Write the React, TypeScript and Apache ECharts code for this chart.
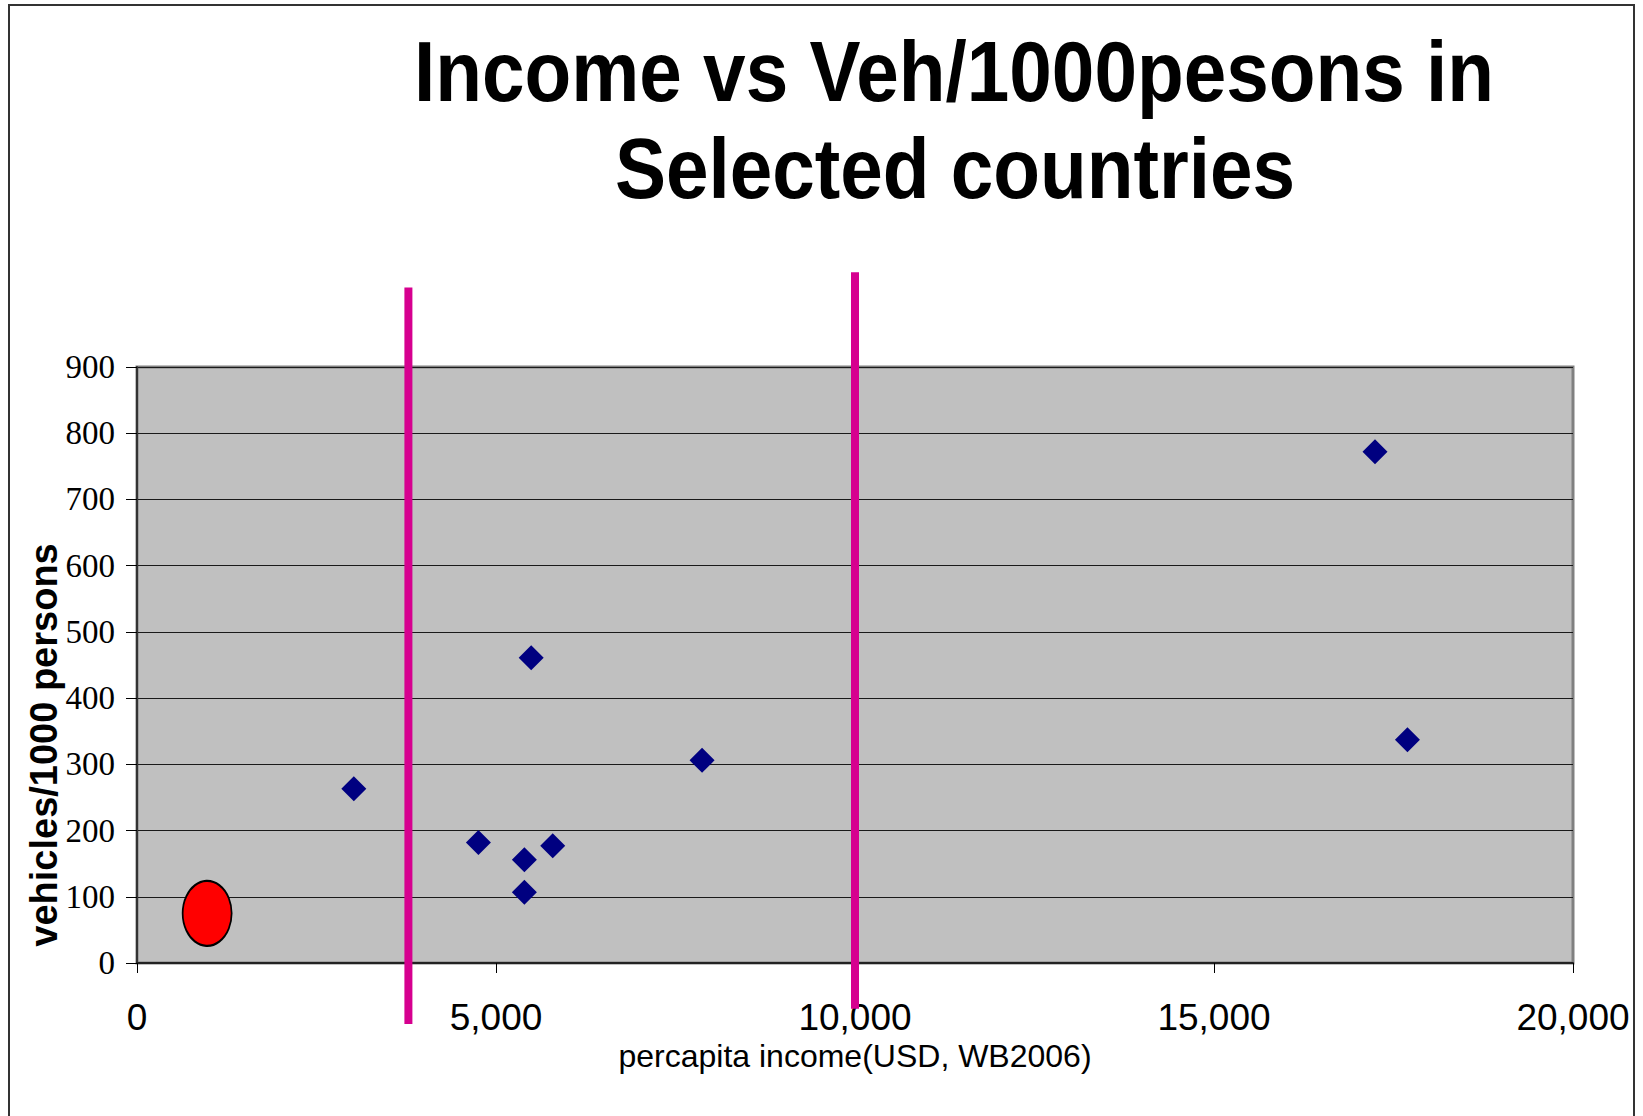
import React, { useEffect, useRef } from "react";
import * as echarts from "echarts";

// ---- data ----
const incomeUSD = [3020, 4755, 5490, 5395, 5395, 5790, 7870, 17242, 17694];
const vehiclesPer1000 = [263, 182, 461, 156, 107, 177, 306, 772, 337];

const highlightIncome = [977];
const highlightVehicles = [75];

const thresholdIncome = [3780, 10000];
const thresholdFrom = [-92, -69];
const thresholdTo = [1020, 1043];

const xTicks = [0, 5000, 10000, 15000, 20000];
const yTicks = [0, 100, 200, 300, 400, 500, 600, 700, 800, 900];

const titleLines = ["Income vs Veh/1000pesons in", "Selected countries"];
const xAxisTitle = "percapita income(USD, WB2006)";
const yAxisTitle = "vehicles/1000 persons";

export default function App() {
  const ref = useRef<HTMLDivElement>(null);

  useEffect(() => {
    if (!ref.current) return;
    const chart = echarts.init(ref.current, undefined, { renderer: "svg" });

    const scatterData = incomeUSD.map((x, i) => [x, vehiclesPer1000[i]]);
    const highlightData = highlightIncome.map((x, i) => [x, highlightVehicles[i]]);
    const lineData = thresholdIncome.map((x, i) => [x, thresholdFrom[i], thresholdTo[i]]);

    const option: any = {
      animation: false,
      backgroundColor: "#ffffff",
      grid: {
        left: 137,
        right: 70,
        top: 367,
        bottom: 153,
        show: true,
        backgroundColor: "#C0C0C0",
        borderColor: "#808080",
        borderWidth: 3,
      },
      xAxis: {
        type: "value",
        min: xTicks[0],
        max: xTicks[xTicks.length - 1],
        interval: 5000,
        name: xAxisTitle,
        nameLocation: "middle",
        nameGap: 77,
        nameMoveOverlap: false,
        nameTextStyle: {
          fontFamily: "'Liberation Sans', Arial, sans-serif",
          fontSize: 32,
          color: "#000",
        },
        axisLine: { show: true, lineStyle: { color: "#222", width: 2 } },
        axisTick: { show: true, inside: false, length: 10, lineStyle: { color: "#000", width: 1 } },
        axisLabel: {
          margin: 36,
          fontFamily: "'Liberation Sans', Arial, sans-serif",
          fontSize: 37,
          color: "#000",
          formatter: (v: number) => v.toLocaleString("en-US"),
        },
        splitLine: { show: false },
      },
      yAxis: {
        type: "value",
        min: yTicks[0],
        max: yTicks[yTicks.length - 1],
        interval: 100,
        axisLine: { show: true, lineStyle: { color: "#333", width: 2 } },
        axisTick: { show: true, inside: false, length: 11, lineStyle: { color: "#000", width: 1 } },
        axisLabel: {
          margin: 22,
          fontFamily: "'Liberation Serif', 'Times New Roman', serif",
          fontSize: 33,
          color: "#000",
        },
        splitLine: { show: true, lineStyle: { color: "#1a1a1a", width: 1 } },
      },
      series: [
        {
          type: "custom",
          clip: false,
          z: 3,
          renderItem: (params: any, api: any) => {
            const p1 = api.coord([api.value(0), api.value(1)]);
            const p2 = api.coord([api.value(0), api.value(2)]);
            return {
              type: "line",
              shape: { x1: p1[0], y1: p1[1], x2: p2[0], y2: p2[1] },
              style: { stroke: "#D6008F", lineWidth: 8 },
            };
          },
          data: lineData,
        },
        {
          type: "scatter",
          symbol: "diamond",
          symbolSize: 25,
          itemStyle: { color: "#000080", opacity: 1 },
          data: scatterData,
          z: 4,
        },
        {
          type: "scatter",
          symbol: "circle",
          symbolSize: [49, 65],
          itemStyle: { color: "#FF0000", borderColor: "#000", borderWidth: 2, opacity: 1 },
          data: highlightData,
          z: 4,
        },
      ],
      graphic: [
        {
          type: "rect",
          shape: { x: 9, y: 5, width: 1625, height: 1200 },
          style: { fill: "none", stroke: "#333", lineWidth: 2 },
          z: -10,
          silent: true,
        },
        {
          type: "text",
          x: 954,
          y: 72,
          scaleX: 0.9,
          style: {
            text: titleLines[0],
            fontFamily: "'Liberation Sans', Arial, sans-serif",
            fontWeight: "bold",
            fontSize: 85,
            fill: "#000",
            align: "center",
            verticalAlign: "middle",
          },
        },
        {
          type: "text",
          x: 955,
          y: 169,
          scaleX: 0.9,
          style: {
            text: titleLines[1],
            fontFamily: "'Liberation Sans', Arial, sans-serif",
            fontWeight: "bold",
            fontSize: 85,
            fill: "#000",
            align: "center",
            verticalAlign: "middle",
          },
        },
        {
          type: "text",
          x: 44,
          y: 745,
          rotation: Math.PI / 2,
          style: {
            text: yAxisTitle,
            fontFamily: "'Liberation Sans', Arial, sans-serif",
            fontWeight: "bold",
            fontSize: 38,
            fill: "#000",
            align: "center",
            verticalAlign: "middle",
          },
        },
      ],
    };

    chart.setOption(option);
    return () => chart.dispose();
  }, []);

  return (
    <div
      ref={ref}
      style={{ position: "absolute", left: 0, top: 0, width: 1643, height: 1116, background: "#fff" }}
    />
  );
}
